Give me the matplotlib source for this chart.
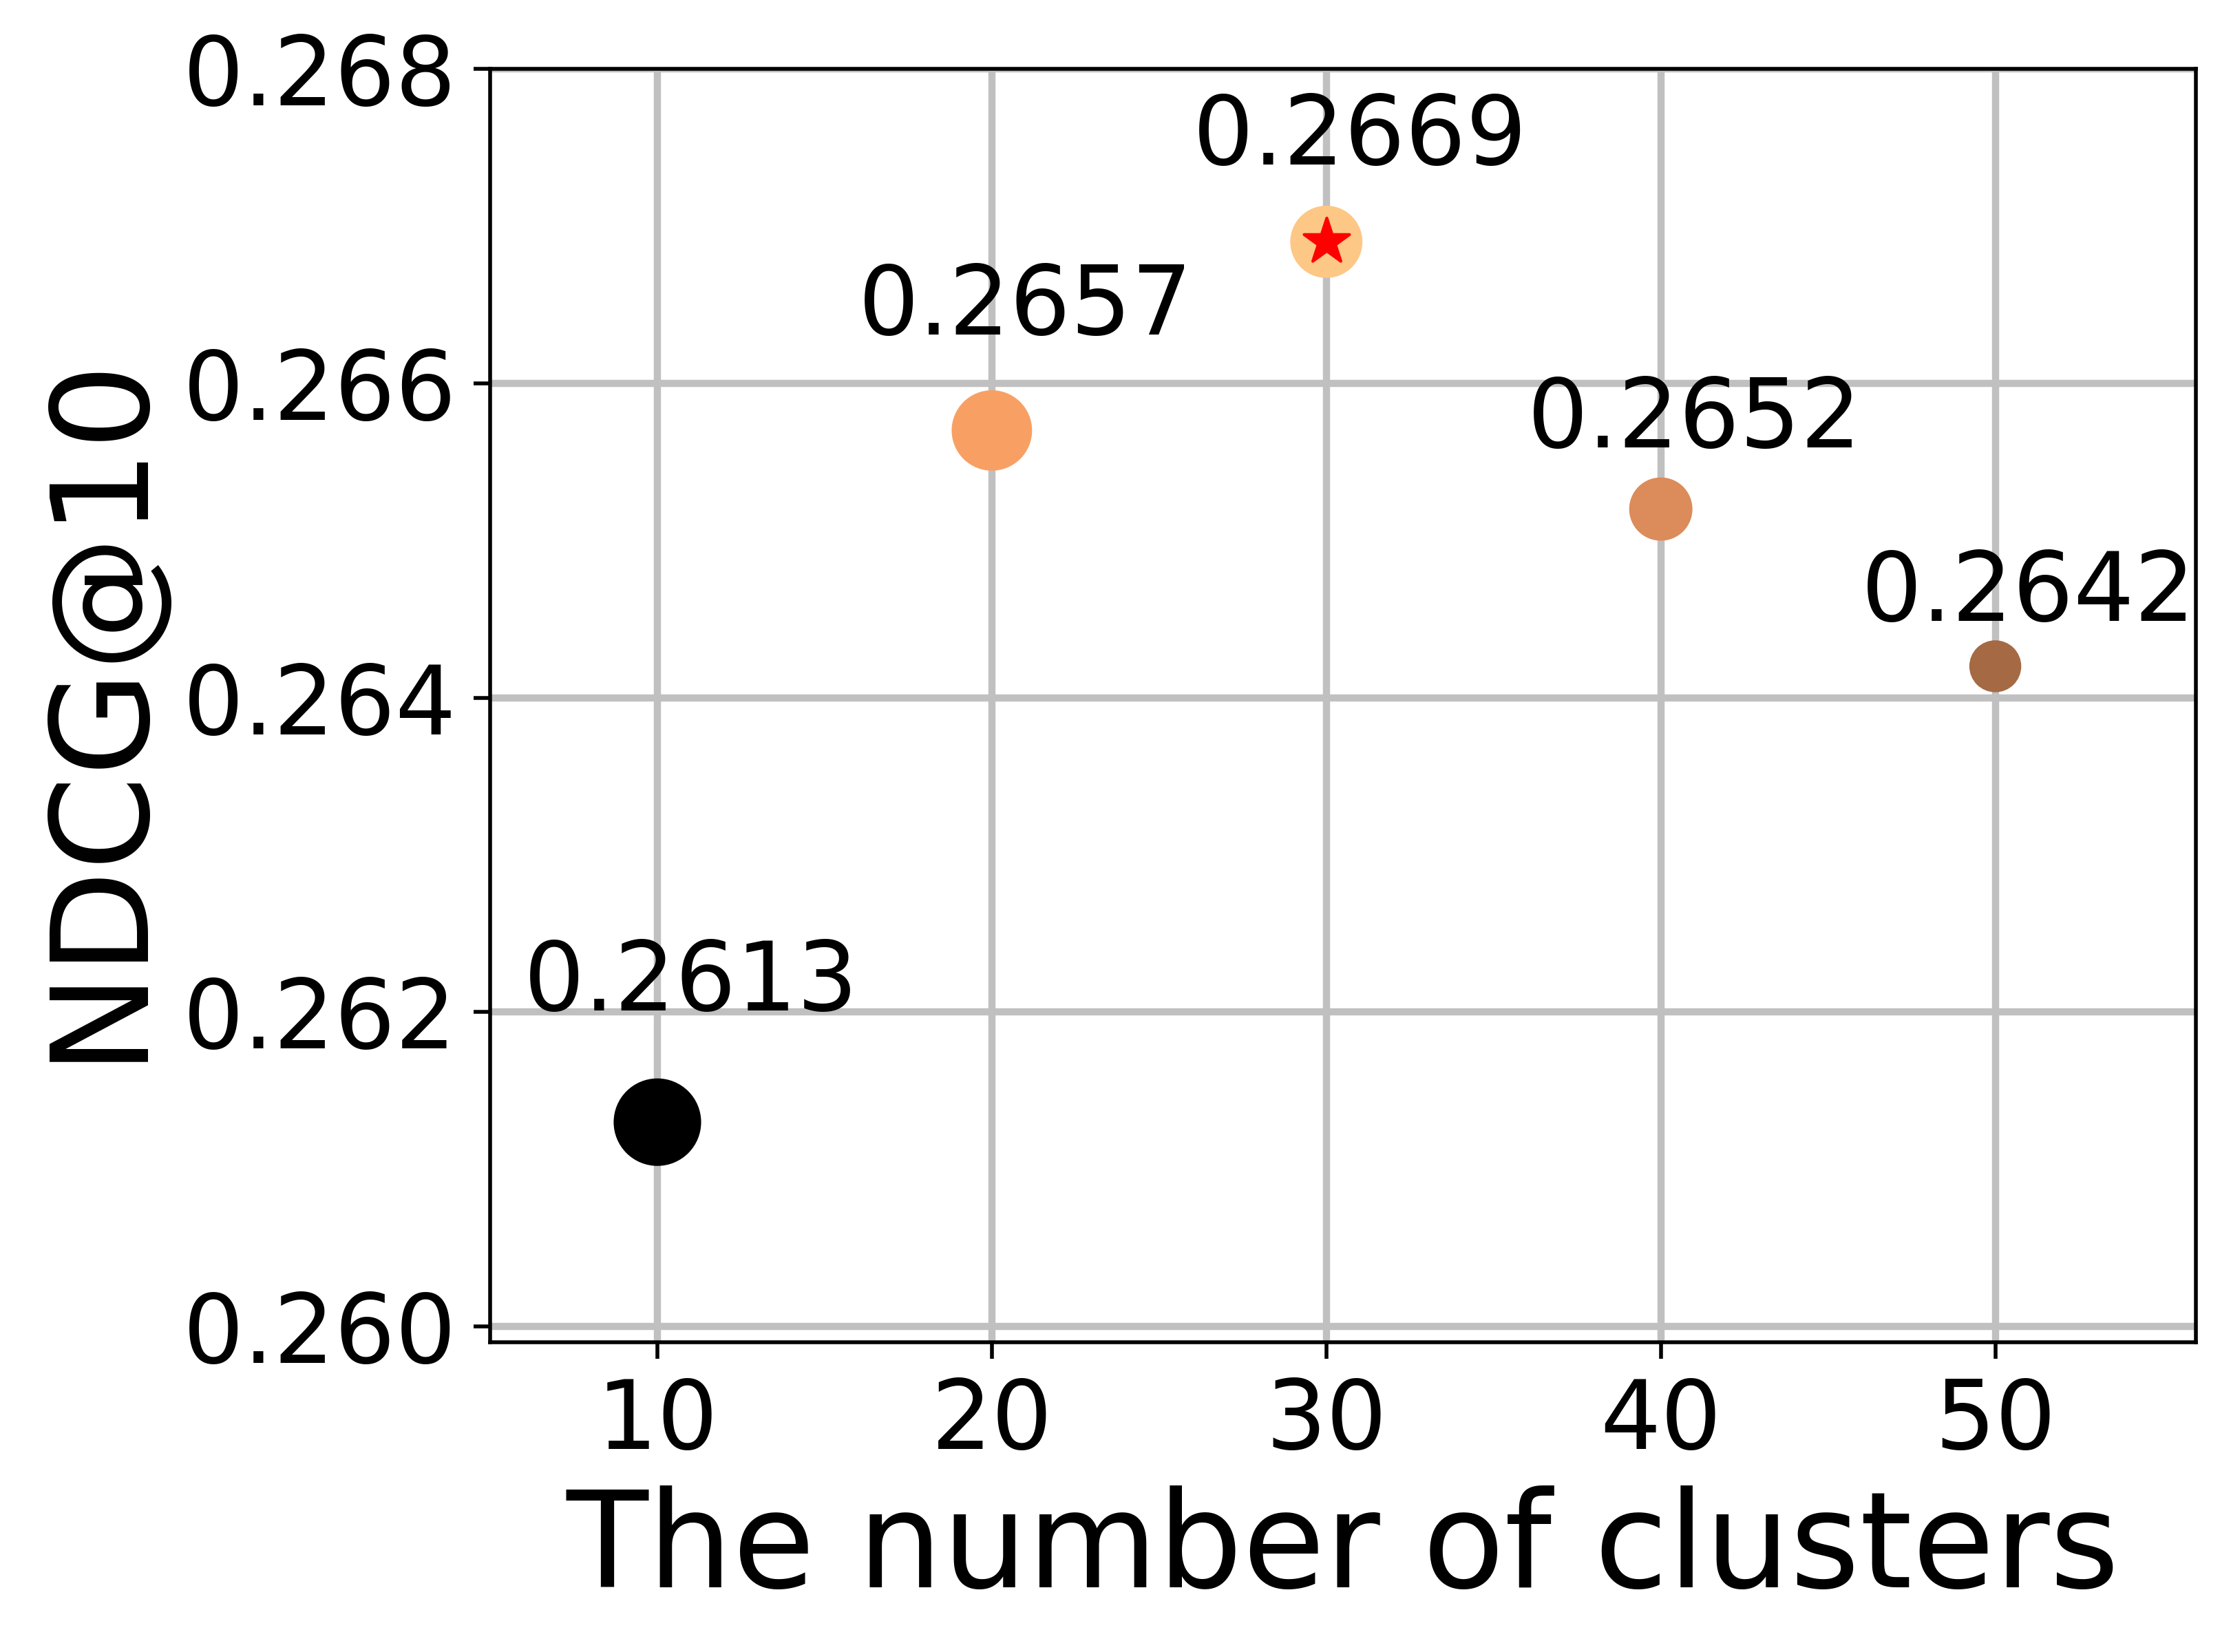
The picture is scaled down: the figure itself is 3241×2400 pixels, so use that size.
import matplotlib
matplotlib.use("Agg")
import matplotlib.pyplot as plt

clusters = [10, 20, 30, 40, 50]
ndcg = [0.2613, 0.2657, 0.2669, 0.2652, 0.2642]
labels = ["0.2613", "0.2657", "0.2669", "0.2652", "0.2642"]
best_x = [30]
best_y = [0.2669]

colors = ["#000000", "#F8A064", "#FDC785", "#DC8B5A", "#A56A44"]
sizes = [335, 283, 228, 175, 118]
label_dy = [0.00071, 0.00061, 0.00049, 0.00039, 0.00029]
label_dx = 1.0

fig = plt.figure(figsize=(6.482, 4.8), dpi=500)
ax = fig.add_axes([0.2197, 0.1875, 0.9843 - 0.2197, 0.9583 - 0.1875])

ax.scatter(clusters, ndcg, s=sizes, c=colors, zorder=3, linewidths=0)
ax.scatter(best_x, best_y, s=100, marker="*", c="red", edgecolors="red",
           linewidths=0.6, zorder=4)

for x, y, t, dy in zip(clusters, ndcg, labels, label_dy):
    ax.text(x + label_dx, y + dy, t, ha="center", va="baseline", fontsize=20)

ax.set_xlim(5, 56)
ax.set_ylim(0.2599, 0.268)
ax.set_xticks(clusters)
ax.set_yticks([0.260, 0.262, 0.264, 0.266, 0.268])
ax.set_yticklabels(["0.260", "0.262", "0.264", "0.266", "0.268"])
ax.tick_params(labelsize=20)
ax.grid(True, color="#c0c0c0", linewidth=1.5)
ax.set_xlabel("The number of clusters", fontsize=28, labelpad=3.5)
ax.set_ylabel("NDCG@10", fontsize=28.3, labelpad=4)

fig.savefig("out.png", dpi=500)
